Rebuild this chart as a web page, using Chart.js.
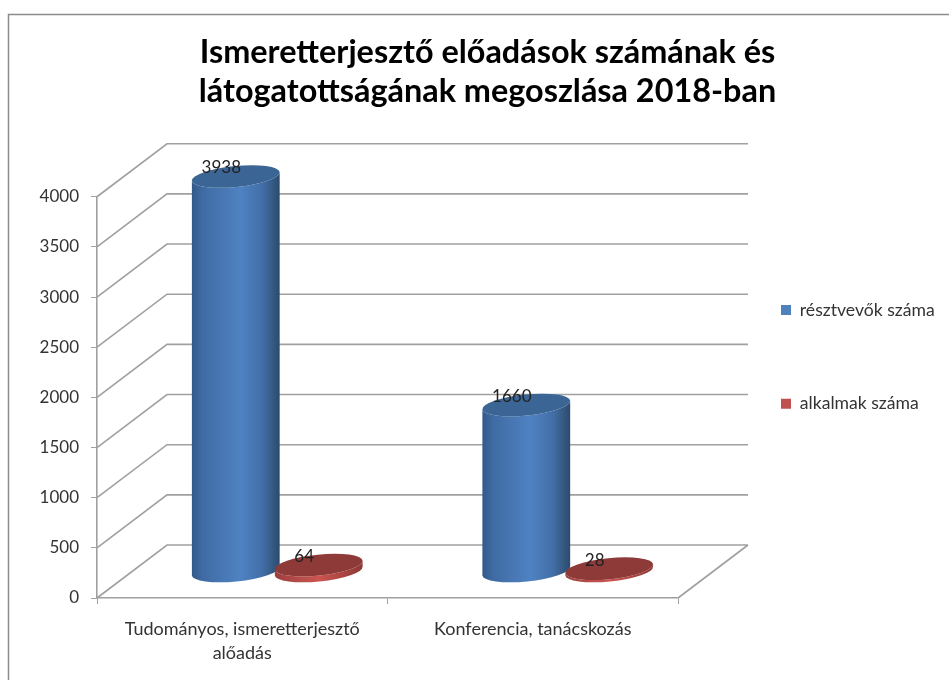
<!DOCTYPE html>
<html lang="hu">
<head>
<meta charset="utf-8">
<title>Ismeretterjesztő előadások</title>
<script src="https://cdn.jsdelivr.net/npm/chart.js@4/dist/chart.umd.js"></script>
<style>
html,body{margin:0;padding:0;background:#fff}
canvas{display:block;filter:blur(0.4px)}
</style>
</head>
<body>
<canvas id="c" width="949" height="680"></canvas>
<script>
const titleLines = ['Ismeretterjesztő előadások számának és', 'látogatottságának megoszlása 2018-ban'];
const categories = [['Tudományos, ismeretterjesztő', 'alőadás'], 'Konferencia, tanácskozás'];
const participants = [3938, 1660];
const occasions = [64, 28];
const seriesNames = ['résztvevők száma', 'alkalmak száma'];
const yMax = 4000;
const yStep = 500;

const DEPTH_X = 70, DEPTH_Y = 53;
const MID_X = DEPTH_X / 2, MID_Y = DEPTH_Y / 2;
const LINE = '#a0a0a0';
const TEXT = '#333333';
const FONT = 'Lato, Carlito, Calibri, sans-serif';

const palettes = {
  '#4f81bd': {cap:'#3b6594', stops:[[0,'#33598a'],[.12,'#3f6ba3'],[.55,'#4f82c2'],[.8,'#436fa8'],[.93,'#34587f'],[1,'#2c4a70']]},
  '#c0504d': {cap:'#8e3a38', stops:[[0,'#9c3f3d'],[.5,'#cc5552'],[1,'#8e3835']]}
};

/* every bar is still the library's own element, placed by its scales; only its shape changes */
Chart.BarElement.prototype.draw = function (ctx) {
  const pal = palettes[this.options.backgroundColor];
  const rx = this.width / 2 + 0.4, ry = 10.5, rot = -0.1;
  const cx = this.x + MID_X;
  const topY = this.y - MID_Y, botY = this.base - MID_Y;
  const hw = Math.sqrt(rx*rx*Math.cos(rot)*Math.cos(rot) + ry*ry*Math.sin(rot)*Math.sin(rot));
  const g = ctx.createLinearGradient(cx - hw, 0, cx + hw, 0);
  pal.stops.forEach(s => g.addColorStop(s[0], s[1]));
  ctx.save();
  ctx.fillStyle = g;
  ctx.beginPath();
  ctx.ellipse(cx, topY, rx, ry, rot, Math.PI, 0, true);
  ctx.ellipse(cx, botY, rx, ry, rot, 0, Math.PI, false);
  ctx.closePath();
  ctx.fill();
  ctx.fillStyle = pal.cap;
  ctx.beginPath();
  ctx.ellipse(cx, topY, rx, ry, rot, 0, Math.PI * 2);
  ctx.fill();
  ctx.restore();
};

const scene = {
  id: 'scene',
  beforeLayout(chart) {
    const lg = chart.legend;
    if (lg && !lg._fixed) {
      const fit = lg.fit;
      lg.fit = function () { fit.call(this); this.width = 271; };
      lg._fixed = true;
    }
  },
  afterLayout(chart) {
    const lg = chart.legend;
    lg.left = 705; lg.right = 949;
    lg.top = 225.25;
    chart.titleBlock.left = 26;
  },
  beforeDraw(chart) {
    const ctx = chart.ctx;
    ctx.save();
    ctx.fillStyle = '#fff';
    ctx.fillRect(0, 0, 949, 680);
    ctx.strokeStyle = '#8c8c8c';
    ctx.lineWidth = 1.5;
    ctx.beginPath();
    ctx.moveTo(8.5, 680); ctx.lineTo(8.5, 14.5); ctx.lineTo(949, 14.5);
    ctx.stroke();
    ctx.restore();
  },
  beforeDatasetsDraw(chart) {
    const ctx = chart.ctx, ys = chart.scales.y, a = chart.chartArea;
    ctx.save();
    ctx.strokeStyle = LINE;
    ctx.lineWidth = 1.6;
    ctx.beginPath();
    ys.ticks.forEach((t, i) => {
      const y = ys.getPixelForTick(i);
      ctx.moveTo(a.left, y);
      ctx.lineTo(a.left + DEPTH_X, y - DEPTH_Y);
      ctx.lineTo(a.right + DEPTH_X, y - DEPTH_Y);
    });
    ctx.moveTo(a.right, a.bottom);
    ctx.lineTo(a.right + DEPTH_X, a.bottom - DEPTH_Y);
    ctx.stroke();
    ctx.restore();

    /* front series last: the red discs sit in front of the blue cylinders */
    chart.data.datasets.forEach((ds, d) => chart.getDatasetMeta(d).controller.draw());

    ctx.save();
    ctx.font = '17px ' + FONT;
    ctx.fillStyle = '#222';
    ctx.textAlign = 'center';
    ctx.textBaseline = 'middle';
    chart.data.datasets.forEach((ds, d) => {
      chart.getDatasetMeta(d).data.forEach((el, i) => {
        ctx.fillText(String(ds.data[i]), el.x + MID_X - 14.5, el.y - MID_Y - 8.5);
      });
    });
    ctx.restore();
    return false;
  }
};

new Chart(document.getElementById('c'), {
  type: 'bar',
  data: {
    labels: categories,
    datasets: [
      {label: seriesNames[0], data: participants, backgroundColor: '#4f81bd', borderColor: '#4f81bd'},
      {label: seriesNames[1], data: occasions, backgroundColor: '#c0504d', borderColor: '#c0504d'}
    ]
  },
  options: {
    responsive: false,
    animation: false,
    categoryPercentage: 0.571,
    barPercentage: 1.054,
    layout: {padding: 0},
    plugins: {
      tooltip: {enabled: false},
      title: {
        display: true,
        text: titleLines,
        color: '#000',
        font: {family: FONT, size: 32.4, weight: 'bold', lineHeight: 1.2},
        padding: {top: 33, bottom: 86}
      },
      legend: {
        position: 'right',
        align: 'start',
        onClick: null,
        labels: {
          boxWidth: 10, boxHeight: 10, padding: 76, color: TEXT,
          font: {family: FONT, size: 17.6}
        }
      }
    },
    scales: {
      x: {
        grid: {drawOnChartArea: false, drawTicks: true, tickLength: 6, tickColor: LINE, offset: true},
        border: {color: LINE, width: 1.6},
        ticks: {color: TEXT, font: {family: FONT, size: 18, lineHeight: 1.33}, padding: 13, maxRotation: 0, autoSkip: false},
        afterFit(s) { s.height = 82; }
      },
      y: {
        min: 0, max: yMax,
        grid: {drawOnChartArea: false, drawTicks: true, tickLength: 6, tickColor: LINE},
        border: {color: LINE, width: 1.6},
        ticks: {stepSize: yStep, color: TEXT, font: {family: FONT, size: 17}, padding: 12, callback: v => String(v)},
        afterFit(s) { s.width = 97; }
      }
    }
  },
  plugins: [scene]
});
</script>
</body>
</html>
